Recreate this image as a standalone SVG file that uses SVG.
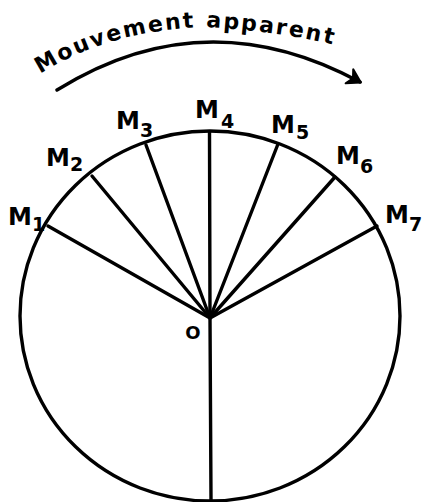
<svg xmlns="http://www.w3.org/2000/svg" width="424" height="502" viewBox="0 0 424 502">
  <style>
    .ln { fill: none; stroke: #000; stroke-width: 3.4; stroke-linecap: round; stroke-linejoin: round; }
    .lbl { font-family: "DejaVu Sans", "Liberation Sans", sans-serif; font-weight: bold; font-size: 24px; fill: #000; }
    .sub { font-size: 19px; }
    .title { font-family: "DejaVu Sans", "Liberation Sans", sans-serif; font-weight: bold; font-size: 22px; fill: #000; }
  </style>
  <defs>
    <marker id="arrow" markerUnits="userSpaceOnUse" markerWidth="20" markerHeight="20" refX="0" refY="0" viewBox="-14 -10 16 20" orient="auto">
      <path d="M1,0 L-12,-8 L-8,0 L-12,8 Z" fill="#000" stroke="#000" stroke-width="2" stroke-linejoin="round"/>
    </marker>
    <path id="titlePath" d="M 40,74 Q 110,30 205,27 Q 290,32 345,48"/>
  </defs>
  <rect width="424" height="502" fill="#fff"/>

  <g id="title">
    <text class="title"><textPath href="#titlePath" textLength="302" lengthAdjust="spacing">Mouvement apparent</textPath></text>
    <path class="ln" d="M 57,90 Q 204.5,-2 360,82" stroke-width="3.6" marker-end="url(#arrow)"/>
  </g>

  <g id="cadran">
    <ellipse class="ln" cx="210" cy="316" rx="190" ry="185" stroke-width="3.2"/>
  </g>

  <g id="connectors">
    <path class="ln" d="M210,318 L48,226"/>
    <path class="ln" d="M210,318 L92,176"/>
    <path class="ln" d="M210,318 L146,145"/>
    <path class="ln" d="M210,318 L209.5,132"/>
    <path class="ln" d="M210,318 L278,144"/>
    <path class="ln" d="M210,318 L335,177"/>
    <path class="ln" d="M210,318 L377,226"/>
    <path class="ln" d="M210,318 L211,500" stroke-width="3"/>
  </g>

  <g id="O"><text class="lbl" x="193" y="339" text-anchor="middle" style="font-size:18px">O</text></g>
  <g id="M1"><text class="lbl" x="8" y="225">M<tspan class="sub" x="32" y="231">1</tspan></text></g>
  <g id="M2"><text class="lbl" x="46" y="166">M<tspan class="sub" x="70" y="171">2</tspan></text></g>
  <g id="M3"><text class="lbl" x="116" y="129">M<tspan class="sub" x="140" y="137">3</tspan></text></g>
  <g id="M4"><text class="lbl" x="195" y="118">M<tspan class="sub" x="221" y="128">4</tspan></text></g>
  <g id="M5"><text class="lbl" x="271" y="133">M<tspan class="sub" x="296" y="139">5</tspan></text></g>
  <g id="M6"><text class="lbl" x="336" y="164">M<tspan class="sub" x="360" y="173">6</tspan></text></g>
  <g id="M7"><text class="lbl" x="385" y="223">M<tspan class="sub" x="409" y="231">7</tspan></text></g>
</svg>
